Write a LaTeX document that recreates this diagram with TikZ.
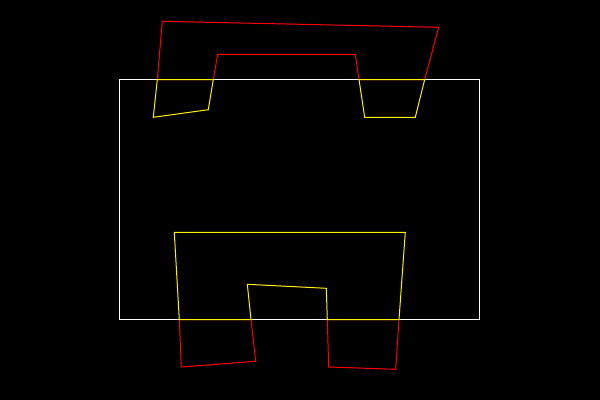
\documentclass[tikz,border=0pt]{standalone}
\begin{document}
\begin{tikzpicture}[x=0.75pt,y=-0.75pt,line width=0.75pt,
  frame/.style={draw=white},
  outpart/.style={draw=red},
  inpart/.style={draw=yellow}]
\fill[black] (0,0) rectangle (600,400);
\useasboundingbox (0,0) rectangle (600,400);
% clipping window
\draw[frame] (119.5,79.5) rectangle (479.5,319.5);
% parts outside the window
\draw[outpart] (157.3,79.5) -- (162.3,21.3) -- (438.7,27.3) -- (424.7,79.5) -- (359,79.5) -- (355.3,54.3) -- (217.7,54.3) -- (213.3,79.5) -- cycle;
\draw[outpart] (179.3,319.5) -- (181.3,367) -- (255.7,361.3) -- (251,319.5) -- cycle;
\draw[outpart] (327.3,319.5) -- (328.7,367) -- (395.7,369.3) -- (399,319.5) -- cycle;
% parts inside the window
\draw[inpart] (157.3,79.5) -- (153.3,117.3) -- (208.3,109.7) -- (213.3,79.5) -- cycle;
\draw[inpart] (359,79.5) -- (364.7,117.3) -- (415.3,117.3) -- (424.7,79.5) -- cycle;
\draw[inpart] (174.3,232.3) -- (405.3,232.3) -- (399,319.5) -- (327.3,319.5) -- (326.3,288.3) -- (247.3,284.3) -- (251,319.5) -- (179.3,319.5) -- cycle;
\end{tikzpicture}
\end{document}
